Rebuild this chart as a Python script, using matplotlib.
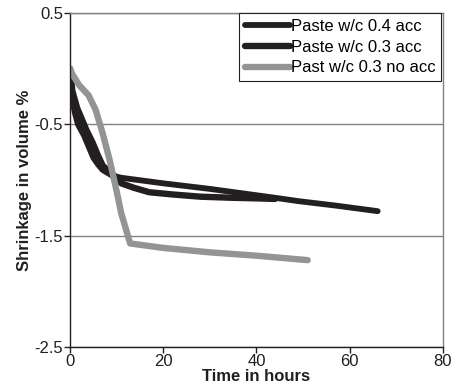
import matplotlib
matplotlib.use("Agg")
import matplotlib.pyplot as plt

plt.rcParams['font.family'] = ['Liberation Sans', 'DejaVu Sans']

labels = ["Paste w/c 0.4 acc", "Paste w/c 0.3 acc", "Past w/c 0.3 no acc"]

x_a = [0, 0.3, 0.6, 1, 1.7, 3, 4, 5, 6, 7, 9, 11, 20, 30, 44, 49, 57, 66]
y_a = [0, -0.15, -0.3, -0.39, -0.5, -0.6, -0.7, -0.8, -0.86, -0.91, -0.96, -0.98,
       -1.03, -1.08, -1.16, -1.19, -1.23, -1.28]

x_b = [0, 0.5, 1.5, 2.5, 3.5, 4.8, 6, 7, 8.5, 10, 11, 13.7, 17, 22, 28, 35, 40, 44]
y_b = [0, -0.2, -0.35, -0.45, -0.55, -0.66, -0.78, -0.87, -0.93, -0.98, -1.03,
       -1.07, -1.11, -1.13, -1.15, -1.16, -1.165, -1.17]

x_c = [0, 0.5, 2, 4, 5.5, 7, 8.5, 10, 11, 12.9, 20, 30, 40, 51]
y_c = [0, -0.05, -0.15, -0.24, -0.37, -0.58, -0.82, -1.1, -1.3, -1.57, -1.61,
       -1.65, -1.68, -1.72]

x_ticks = [0, 20, 40, 60, 80]
y_ticks = [0.5, -0.5, -1.5, -2.5]

fig = plt.figure(figsize=(4.59, 3.89), dpi=100)
ax = fig.add_axes([0.1525, 0.108, 0.8125, 0.8586])

ax.plot(x_a, y_a, color='#231f20', lw=4.2, solid_capstyle='round', solid_joinstyle='round', label=labels[0])
ax.plot(x_b, y_b, color='#231f20', lw=4.6, solid_capstyle='round', solid_joinstyle='round', label=labels[1])
ax.plot(x_c, y_c, color='#929497', lw=4.6, solid_capstyle='round', solid_joinstyle='round', label=labels[2])

ax.set_xlim(0, 80)
ax.set_ylim(-2.5, 0.5)
ax.set_xticks(x_ticks)
ax.set_yticks(y_ticks)
ax.set_yticklabels([f"{v:g}" for v in y_ticks])
ax.yaxis.grid(True, color='#808080', lw=1.0)
ax.set_axisbelow(True)

for s in ['top', 'right']:
    ax.spines[s].set_color('#808080')
    ax.spines[s].set_linewidth(1.0)
for s in ['left', 'bottom']:
    ax.spines[s].set_color('#231f20')
    ax.spines[s].set_linewidth(1.0)

ax.tick_params(axis='both', direction='out', length=4, width=1, labelsize=12,
               colors='#231f20', pad=1)

ax.set_xlabel("Time in hours", fontsize=12, fontweight='bold', labelpad=0, color='#231f20')
ax.set_ylabel("Shrinkage in volume %", fontsize=12, fontweight='bold', labelpad=2, color='#231f20')

leg = ax.legend(loc='upper right', bbox_to_anchor=(0.995, 1.0), fontsize=12,
                frameon=True, fancybox=False, edgecolor='#231f20', framealpha=1,
                handlelength=2.7, handletextpad=0.05, labelspacing=0.35,
                borderpad=0.35, borderaxespad=0)
leg.get_frame().set_linewidth(0.8)

fig.savefig("out.png", dpi=100)
